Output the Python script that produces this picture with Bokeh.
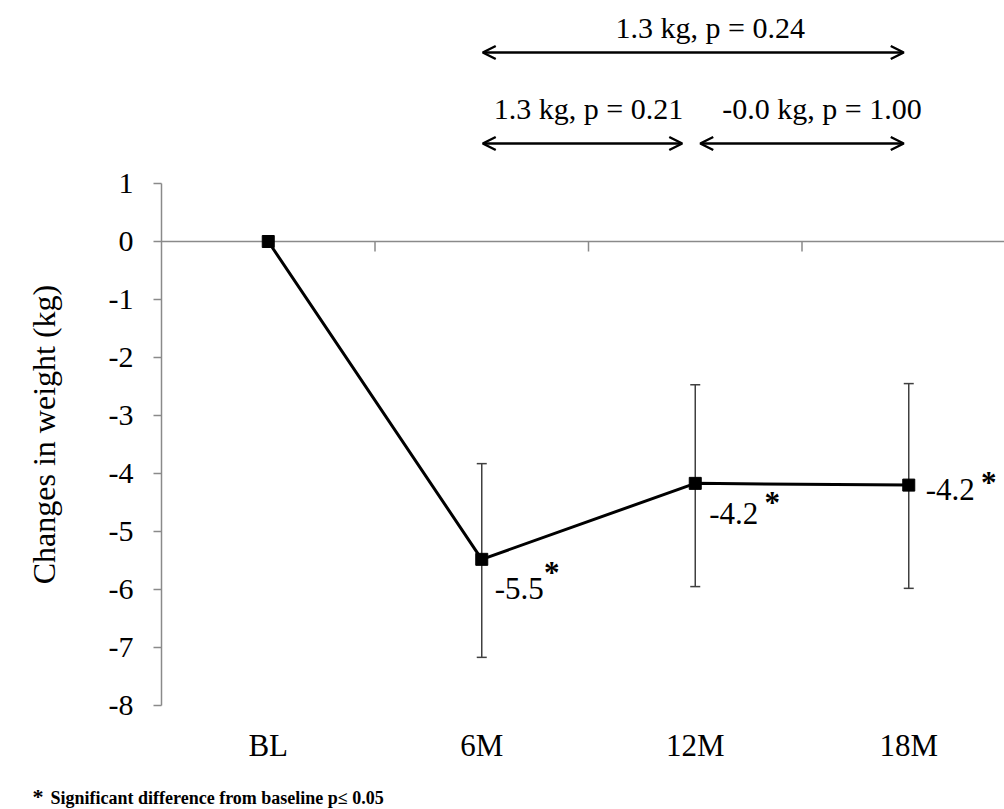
import math
from bokeh.plotting import figure
from bokeh.models import (ColumnDataSource, FixedTicker, Whisker, TeeHead, Arrow,
                          OpenHead, LinearAxis)
from bokeh.core.properties import value
from bokeh.embed import file_html
from bokeh.resources import INLINE

# ---------------- data ----------------
categories = ["BL", "6M", "12M", "18M"]
weight_change = [0.0, -5.48, -4.17, -4.20]
err_lower = [None, -7.17, -5.95, -5.98]
err_upper = [None, -3.83, -2.47, -2.45]
significant = [False, True, True, True]
y_ticks = [1, 0, -1, -2, -3, -4, -5, -6, -7, -8]
comparisons = [
    ("6M", "18M", "1.3 kg, p = 0.24"),
    ("6M", "12M", "1.3 kg, p = 0.21"),
    ("12M", "18M", "-0.0 kg, p = 1.00"),
]
y_label = "Changes in weight (kg)"
footnote = "Significant difference from baseline p\u2264 0.05"

# ---------------- layout / style ----------------
FONT = "Liberation Serif"
AXIS_GRAY = "#8a8a8a"
W, H = 1004, 809
AXIS_X_PX = 161          # page x of the y axis
ZERO_Y_PX = 241          # page y of value 0
PX_X = 213.5             # pixels per category
PX_Y = 58.0              # pixels per kg

x_start = -AXIS_X_PX / PX_X
x_end = (W - AXIS_X_PX) / PX_X
y_end = ZERO_Y_PX / PX_Y
y_start = (ZERO_Y_PX - H) / PX_Y

def page_x(px):
    return (px - AXIS_X_PX) / PX_X

def page_y(py):
    return (ZERO_Y_PX - py) / PX_Y

xpos = [i + 0.5 for i in range(len(categories))]
pos = dict(zip(categories, xpos))

p = figure(width=W, height=H, x_range=(x_start, x_end), y_range=(y_start, y_end),
           x_axis_location=None, y_axis_location=None,
           min_border=0, output_backend="svg", toolbar_location=None, tools="")
p.outline_line_color = None
p.xgrid.grid_line_color = None
p.ygrid.grid_line_color = None
p.background_fill_color = "white"
p.border_fill_color = "white"

# y axis at x = 0, spanning 1 .. -8
ya = LinearAxis(fixed_location=0, bounds=(min(y_ticks), max(y_ticks)),
                ticker=FixedTicker(ticks=y_ticks),
                major_label_overrides={t: str(t) for t in y_ticks},
                axis_line_color=AXIS_GRAY, axis_line_width=1.5,
                major_tick_line_color=AXIS_GRAY, major_tick_line_width=1.5,
                major_tick_out=8, major_tick_in=0, minor_tick_line_color=None,
                major_label_standoff=20, major_label_text_font=FONT,
                major_label_text_font_size="30px", major_label_text_color="black")
p.add_layout(ya, "left")

# category labels under the plot area (axis at y = -8)
xa = LinearAxis(fixed_location=min(y_ticks), ticker=FixedTicker(ticks=xpos),
                major_label_overrides={x: c for x, c in zip(xpos, categories)},
                axis_line_color=None, major_tick_line_color=None,
                minor_tick_line_color=None, major_label_standoff=16,
                major_label_text_font=FONT, major_label_text_font_size="31px",
                major_label_text_color="black")
p.add_layout(xa, "below")

# zero line with category boundary ticks
p.segment(x0=[0], y0=[0], x1=[x_end], y1=[0], line_color=AXIS_GRAY, line_width=1.5)
bounds_x = [i for i in range(1, len(categories) + 1)]
p.segment(x0=bounds_x, y0=[0] * len(bounds_x), x1=bounds_x,
          y1=[-10 / PX_Y] * len(bounds_x), line_color=AXIS_GRAY, line_width=1.5)

# y axis title
p.text(x=[page_x(43)], y=[page_y(434)], text=[y_label], angle=math.pi / 2,
       text_font=value(FONT), text_font_size="32px", text_color="black",
       text_align="center", text_baseline="middle")

# error bars
eb_idx = [i for i, v in enumerate(err_lower) if v is not None]
eb_src = ColumnDataSource(dict(x=[xpos[i] for i in eb_idx],
                               lower=[err_lower[i] for i in eb_idx],
                               upper=[err_upper[i] for i in eb_idx]))
EB_COLOR = "#404040"
p.add_layout(Whisker(source=eb_src, base="x", lower="lower", upper="upper",
                     dimension="height", line_color=EB_COLOR, line_width=1.5,
                     upper_head=TeeHead(size=10, line_color=EB_COLOR, line_width=1.5),
                     lower_head=TeeHead(size=10, line_color=EB_COLOR, line_width=1.5)))

# line and markers
p.line(xpos, weight_change, line_color="black", line_width=3)
p.scatter(xpos, weight_change, marker="square", size=12, color="black")

# value labels with significance stars (offsets in pixels, y down)
num_dx = [0, 13, 14, 17]
num_dy = [0, 29, 30, 4]
star_dx = [0, 70, 77, 80]
star_dy = [0, 13, 19, -3]
lab_idx = [i for i in range(len(categories)) if significant[i]]
lab_src = ColumnDataSource(dict(
    x=[xpos[i] for i in lab_idx],
    y=[weight_change[i] for i in lab_idx],
    txt=[f"{weight_change[i]:.1f}" for i in lab_idx],
    star=["*" for i in lab_idx],
    dx=[num_dx[i] for i in lab_idx], dy=[num_dy[i] for i in lab_idx],
    sdx=[star_dx[i] for i in lab_idx], sdy=[star_dy[i] for i in lab_idx],
))
p.text(x="x", y="y", text="txt", x_offset="dx", y_offset="dy", source=lab_src,
       text_font=value(FONT), text_font_size="31px", text_color="black",
       text_align="left", text_baseline="alphabetic")
p.text(x="x", y="y", text="star", x_offset="sdx", y_offset="sdy", source=lab_src,
       text_font=value(FONT), text_font_size="31px", text_font_style="bold",
       text_color="black", text_align="center", text_baseline="alphabetic")

# comparison arrows
arrow_py = [52, 143, 143]
text_py = [27, 108, 108]
start_gap = [1, 1, 5]     # pixels between category centre and arrow tip
end_gap = [5, 13, 5]
text_dx = [15, 0, 20]
for k, (a, b, txt) in enumerate(comparisons):
    xs = pos[a] + start_gap[k] / PX_X
    xe = pos[b] - end_gap[k] / PX_X
    yy = page_y(arrow_py[k])
    p.add_layout(Arrow(x_start=xs, y_start=yy, x_end=xe, y_end=yy,
                       line_color="black", line_width=2.5,
                       start=OpenHead(size=13, line_color="black", line_width=2.5),
                       end=OpenHead(size=13, line_color="black", line_width=2.5)))
    p.text(x=[(pos[a] + pos[b]) / 2], y=[page_y(text_py[k])], text=[txt],
           x_offset=text_dx[k], text_align="center", text_baseline="middle",
           text_font=value(FONT), text_font_size="30px", text_color="black")

# footnote
p.text(x=[page_x(32)], y=[page_y(796)], text=["*"], text_align="left",
       text_baseline="middle", text_font=value(FONT), text_font_size="22px",
       text_font_style="bold", text_color="black")
p.text(x=[page_x(50)], y=[page_y(797)], text=[footnote], text_align="left",
       text_baseline="middle", text_font=value(FONT), text_font_size="18px",
       text_font_style="bold", text_color="black")

open("out.html", "w").write(file_html(p, INLINE))
